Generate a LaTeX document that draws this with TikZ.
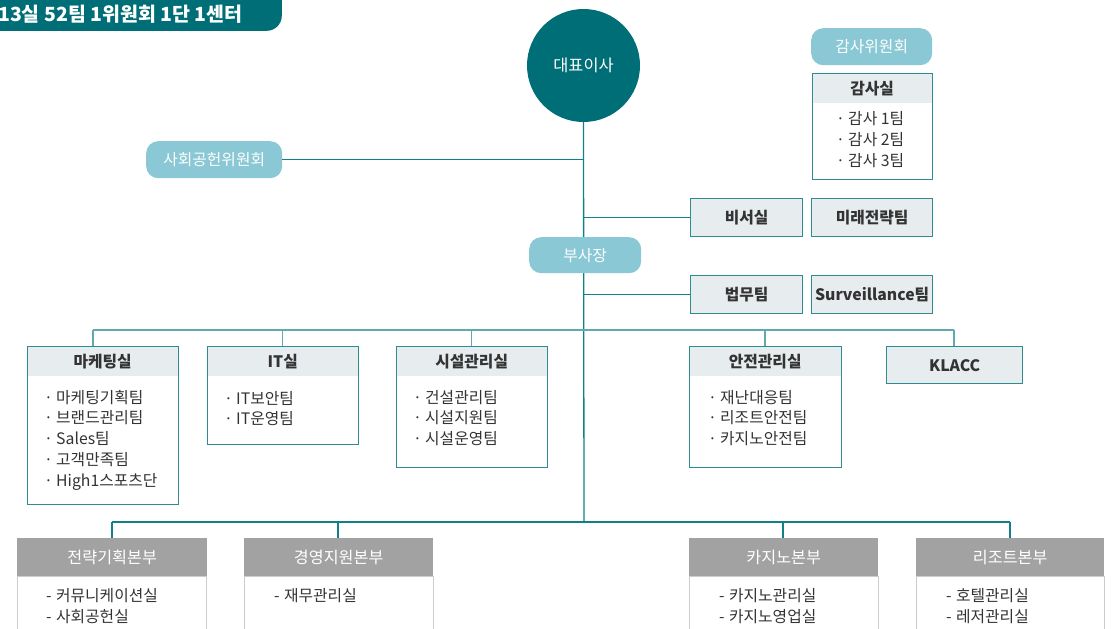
\documentclass[tikz,border=0pt]{standalone}
\usepackage{fontspec}
\setmainfont{Noto Sans CJK KR}
\usetikzlibrary{calc}
\definecolor{dteal}{HTML}{006E77}
\definecolor{lblue}{HTML}{89C8D4}
\definecolor{trunkc}{HTML}{12808A}
\definecolor{midc}{HTML}{62A9AE}
\definecolor{bord}{HTML}{2E8B91}
\definecolor{hfill}{HTML}{E7EDEF}
\definecolor{txt}{HTML}{333333}
\definecolor{ghdr}{HTML}{A2A2A2}
\definecolor{gbord}{HTML}{CCCCCC}
\newcommand\fs{\fontsize{15.8}{20}\selectfont}
\newcommand\mdot{·\hspace{0.2em}}
\newcommand\dsh{-\hspace{0.28em}}
\tikzset{
  pill/.style={fill=lblue, rounded corners=12pt, text=white, font=\fs, inner sep=0pt, anchor=north west},
  hdr/.style={fill=hfill, font=\fs\bfseries, text=txt, inner sep=0pt, anchor=north west},
  frame/.style={draw=bord, line width=1.3pt, anchor=north west, inner sep=0pt},
  gbox/.style={draw=bord, line width=1.3pt, fill=hfill, font=\fs\bfseries, text=txt, inner sep=0pt, anchor=north west},
  ghead/.style={fill=ghdr, font=\fontsize{16.2}{20}\selectfont, text=white, inner sep=0pt, anchor=north west, minimum width=189pt, minimum height=38pt},
  gbody/.style={draw=gbord, line width=1pt, anchor=north west, inner sep=0pt, minimum width=189pt, minimum height=80pt},
  itm/.style={anchor=west, inner sep=0pt, text=txt, font=\fs, text height=0.8em, text depth=0.1em, yshift=-2.5pt},
  trunk/.style={draw=trunkc, line width=1.3pt},
  midline/.style={draw=midc, line width=1.3pt},
}
\begin{document}
\begin{tikzpicture}[x=1pt,y=-1pt]
\useasboundingbox (0,0) rectangle (1112,629);
\clip (0,0) rectangle (1112,629);

% top-left label
\node[fill=dteal, rounded corners=15pt, minimum width=312pt, minimum height=51pt, anchor=south east, inner sep=0pt] (lbl) at (282,31) {};
\node[anchor=west, inner sep=0pt, text=white, font=\fontsize{19.5}{22}\selectfont\bfseries] (lbltxt) at (-2,14.5) {13실 52팀 1위원회 1단 1센터};

% CEO
\node[circle, fill=dteal, minimum size=113pt, inner sep=0pt, text=white, font=\fontsize{16.4}{18}\selectfont] (ceo) at (583.5,65.5) {대표이사};
\coordinate (bb) at (584,522);
\draw[trunk] (ceo.south) -- (bb);

% committees
\node[pill, minimum width=136pt, minimum height=37pt] (sc) at (146,141) {사회공헌위원회};
\draw[trunk] (sc.east) -- (sc.east -| ceo.south);
\node[pill, minimum width=121pt, minimum height=37pt] (ac) at (811,28) {감사위원회};

% audit office
\node[hdr, minimum width=120pt, minimum height=30pt] (auh) at (812,73) {감사실};
\node[frame, minimum width=120pt, minimum height=106pt] (au) at (812,73) {};
\foreach \t [count=\i] in {감사 1팀, 감사 2팀, 감사 3팀}
  \node[itm] (au-\i) at (836,{118+21*(\i-1)}) {\mdot\t};

% secretary row
\node[gbox, minimum width=112pt, minimum height=38pt] (bs) at (690,198) {비서실};
\node[gbox, minimum width=121pt, minimum height=38pt] (fs) at (811,198) {미래전략팀};
\draw[trunk] (bs.west) -- (bs.west -| ceo.south);

% vice president
\node[pill, minimum width=112pt, minimum height=36pt] (vp) at (529,237) {부사장};

% legal row
\node[gbox, minimum width=112pt, minimum height=38pt] (lg) at (690,275) {법무팀};
\node[gbox, minimum width=121pt, minimum height=38pt] (sv) at (811,275) {Surveillance팀};
\draw[trunk] (lg.west) -- (lg.west -| ceo.south);

% middle departments
\node[hdr, minimum width=151pt, minimum height=30pt] (mkh) at (27,346) {마케팅실};
\node[frame, minimum width=151pt, minimum height=158pt] (mk) at (27,346) {};
\foreach \t [count=\i] in {마케팅기획팀, 브랜드관리팀, Sales팀, 고객만족팀, High1스포츠단}
  \node[itm] (mk-\i) at (44,{397+20.8*(\i-1)}) {\mdot\t};

\node[hdr, minimum width=151pt, minimum height=30pt] (ith) at (207,346) {IT실};
\node[frame, minimum width=151pt, minimum height=98pt] (it) at (207,346) {};
\foreach \t [count=\i] in {IT보안팀, IT운영팀}
  \node[itm] (it-\i) at (224,{398+20.8*(\i-1)}) {\mdot\t};

\node[hdr, minimum width=151pt, minimum height=30pt] (fah) at (396,346) {시설관리실};
\node[frame, minimum width=151pt, minimum height=121pt] (fa) at (396,346) {};
\foreach \t [count=\i] in {건설관리팀, 시설지원팀, 시설운영팀}
  \node[itm] (fa-\i) at (413,{397+20.8*(\i-1)}) {\mdot\t};

\node[hdr, minimum width=152pt, minimum height=30pt] (sfh) at (689,346) {안전관리실};
\node[frame, minimum width=152pt, minimum height=121pt] (sf) at (689,346) {};
\foreach \t [count=\i] in {재난대응팀, 리조트안전팀, 카지노안전팀}
  \node[itm] (sf-\i) at (708,{397+20.8*(\i-1)}) {\mdot\t};

\node[gbox, minimum width=136pt, minimum height=37pt, font=\fs] (kl) at (886,346) {\textbf{KLACC}};

% middle bus
\coordinate (m1) at (93,330);
\coordinate (m2) at (282.5,330);
\coordinate (m3) at (471.5,330);
\coordinate (m4) at (765,330);
\coordinate (m5) at (954,330);
\draw[midline] (m1) -- (m5);
\draw[midline] (m1) -- (m1 |- mk.north);
\draw[midline] (m2) -- (m2 |- it.north);
\draw[midline] (m3) -- (m3 |- fa.north);
\draw[midline] (m4) -- (m4 |- sf.north);
\draw[midline] (m5) -- (m5 |- kl.north);

% bottom divisions
\node[gbody] (d1) at (17,576) {};
\node[ghead, minimum width=190pt] (d1h) at (17,538) {전략기획본부};
\foreach \t [count=\i] in {커뮤니케이션실, 사회공헌실}
  \node[itm] (d1-\i) at (46,{595+21*(\i-1)}) {\dsh\t};

\node[gbody] (d2) at (244,576) {};
\node[ghead] (d2h) at (244,538) {경영지원본부};
\node[itm] (d2-1) at (274,595) {\dsh 재무관리실};

\node[gbody] (d3) at (689,576) {};
\node[ghead] (d3h) at (689,538) {카지노본부};
\foreach \t [count=\i] in {카지노관리실, 카지노영업실}
  \node[itm] (d3-\i) at (719,{595+21*(\i-1)}) {\dsh\t};

\node[gbody, minimum width=188pt] (d4) at (916,576) {};
\node[ghead, minimum width=188pt] (d4h) at (916,538) {리조트본부};
\foreach \t [count=\i] in {호텔관리실, 레저관리실}
  \node[itm] (d4-\i) at (946,{595+21*(\i-1)}) {\dsh\t};

% bottom bus
\coordinate (b1) at (112,522);
\coordinate (b2) at (338,522);
\coordinate (b3) at (783,522);
\coordinate (b4) at (1010,522);
\draw[trunk] (b1) -- (b4);
\draw[trunk] (b1) -- (b1 |- d1h.north);
\draw[trunk] (b2) -- (b2 |- d2h.north);
\draw[trunk] (b3) -- (b3 |- d3h.north);
\draw[trunk] (b4) -- (b4 |- d4h.north);
\end{tikzpicture}
\end{document}
